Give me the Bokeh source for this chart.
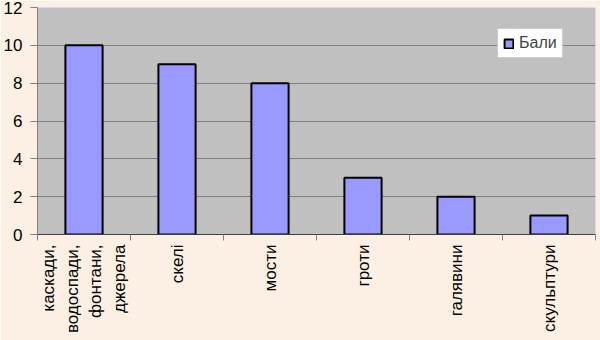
import math
from bokeh.plotting import figure
from bokeh.models import FixedTicker, Legend, LegendItem, ColumnDataSource, Range1d
from bokeh.embed import file_html
from bokeh.resources import INLINE

categories = ["каскади,\nводоспади,\nфонтани,\nджерела", "скелі", "мости", "гроти", "галявини", "скульптури"]
values = [10, 9, 8, 3, 2, 1]
series_name = "Бали"
y_ticks = [0, 2, 4, 6, 8, 10, 12]

xs = [i + 0.5 for i in range(len(categories))]
src = ColumnDataSource(dict(x=xs, v=values))

FONT = "Liberation Sans"

p = figure(width=600, height=340, x_range=Range1d(0, len(categories)), y_range=Range1d(0, 12),
           output_backend="svg", toolbar_location=None,
           background_fill_color="#C0C0C0", border_fill_color="#FCF0E4",
           min_border_left=36, min_border_right=5, min_border_top=7, min_border_bottom=106)
p.outline_line_color = None

r = p.vbar(x="x", top="v", width=0.4, source=src, fill_color="#9999FF",
           line_color="black", line_width=2)

# x axis
p.xaxis.ticker = FixedTicker(ticks=xs, minor_ticks=list(range(len(categories) + 1)))
p.xaxis.major_label_overrides = {x: c for x, c in zip(xs, categories)}
p.xaxis.major_label_orientation = math.pi / 2
p.xaxis.major_tick_line_color = None
p.xaxis.major_tick_out = 6
p.xaxis.major_tick_in = 0
p.xaxis.minor_tick_out = 6
p.xaxis.minor_tick_in = 0
p.xaxis.minor_tick_line_color = "#808080"
p.xaxis.axis_line_color = "#404040"
p.xaxis.major_label_standoff = 4
p.xaxis.major_label_text_font = FONT
p.xaxis.major_label_text_font_size = "17px"
p.xaxis.major_label_text_color = "black"
p.xaxis.major_label_text_line_height = 1.25
p.xgrid.visible = False

# y axis
p.yaxis.ticker = FixedTicker(ticks=y_ticks)
p.yaxis.minor_tick_line_color = None
p.yaxis.major_tick_out = 7
p.yaxis.major_tick_in = 0
p.yaxis.major_tick_line_color = "#808080"
p.yaxis.axis_line_color = "#808080"
p.yaxis.major_label_standoff = 8
p.yaxis.major_label_text_font = FONT
p.yaxis.major_label_text_font_size = "17px"
p.yaxis.major_label_text_color = "black"
p.ygrid.ticker = FixedTicker(ticks=y_ticks)
p.ygrid.grid_line_color = "#808080"

legend = Legend(items=[LegendItem(label=series_name, renderers=[r])], location=(460, 176),
                padding=5, margin=0, glyph_width=11, glyph_height=11, label_height=16,
                label_standoff=5, label_text_font=FONT, label_text_font_size="16px",
                border_line_color="#999999", background_fill_color="white", background_fill_alpha=1)
p.add_layout(legend)

open("out.html", "w").write(file_html(p, INLINE))
